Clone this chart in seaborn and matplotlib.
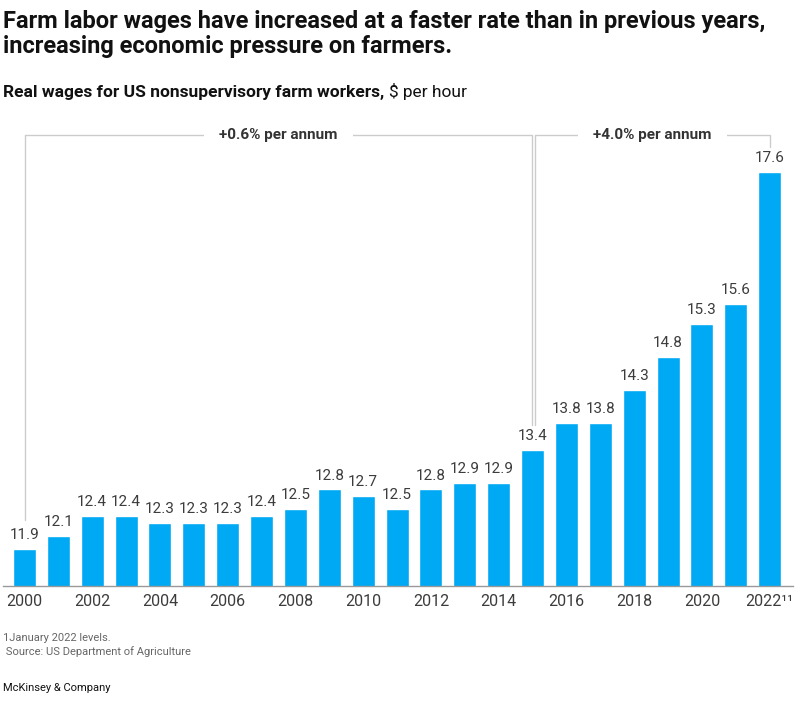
import matplotlib
matplotlib.use("Agg")
import matplotlib.pyplot as plt
import seaborn as sns
import pandas as pd

years = [str(y) for y in range(2000, 2023)]
wages = [11.9, 12.1, 12.4, 12.4, 12.3, 12.3, 12.3, 12.4, 12.5, 12.8, 12.7, 12.5,
         12.8, 12.9, 12.9, 13.4, 13.8, 13.8, 14.3, 14.8, 15.3, 15.6, 17.6]
tick_labels = [y if int(y) % 2 == 0 else "" for y in years]
tick_labels[-1] = "2022¹¹"
bracket_labels = ["+0.6% per annum", "+4.0% per annum"]

sns.set_theme(style="white")
plt.rcParams['font.family'] = ['Roboto', 'DejaVu Sans']

W, H = 799, 703
fig = plt.figure(figsize=(W / 100, H / 100), dpi=100)

ax_left, ax_right = 3, 793
ax_bottom, ax_top = 586, 120
ax = fig.add_axes([ax_left / W, 1 - ax_bottom / H, (ax_right - ax_left) / W, (ax_bottom - ax_top) / H])

df = pd.DataFrame({"year": years, "wage": wages})
sns.barplot(data=df, x="year", y="wage", color="#00A9F4", saturation=1, width=0.68, ax=ax)

# scale: 11.9 -> y=549, 17.6 -> y=172
ppu = (549 - 172) / (17.6 - 11.9)
ymin = 11.9 - (ax_bottom - 549) / ppu
ymax = ymin + (ax_bottom - ax_top) / ppu
ax.set_ylim(ymin, ymax)
ax.set_xlim(-0.635, 22.69)

for i, v in enumerate(wages):
    ax.annotate(f"{v:.1f}", (i, v), xytext=(0, 5), textcoords="offset points",
                ha="center", va="bottom", fontsize=11, color="#3c3c3c")

for s in ["top", "left", "right"]:
    ax.spines[s].set_visible(False)
ax.spines["bottom"].set_color("#999999")
ax.spines["bottom"].set_linewidth(1)
ax.set_yticks([])
ax.set_xlabel("")
ax.set_ylabel("")
ax.set_xticks(range(len(years)))
ax.set_xticklabels(tick_labels, fontsize=11.5, color="#3c3c3c")
ax.tick_params(axis="x", length=0, pad=6)

# brackets
bc = "#cccccc"
def px2val(py):
    return ymin + (ax_bottom - py) / ppu
yb = px2val(135)

ax.plot([0, 0, 15 - 0.03, 15 - 0.03], [px2val(520), yb, yb, px2val(425)], color=bc, lw=1, clip_on=False)
ax.plot([15 + 0.07, 15 + 0.07, 22, 22], [px2val(425), yb, yb, px2val(147)], color=bc, lw=1, clip_on=False)
for (a, b), lab in zip([(0, 15), (15.07, 22)], bracket_labels):
    ax.text((a + b) / 2, yb, lab, ha="center", va="center", fontsize=11, fontweight="bold",
            color="#333333", bbox=dict(boxstyle="square,pad=1.0", fc="white", ec="none"))

# titles
fig.text(3 / W, 1 - 10 / H, "Farm labor wages have increased at a faster rate than in previous years,\nincreasing economic pressure on farmers.",
         ha="left", va="top", fontsize=17, fontweight="bold", color="#111111", linespacing=1.1)
t1 = fig.text(3 / W, 1 - 92 / H, "Real wages for US nonsupervisory farm workers,", ha="left", va="center",
              fontsize=12.5, fontweight="bold", color="#111111")
fig.canvas.draw()
bb = t1.get_window_extent()
fig.text((bb.x1 + 5) / W, 1 - 92 / H, r"\$ per hour", ha="left", va="center", fontsize=12.5, color="#111111")

fig.text(3 / W, 1 - 645 / H, "1January 2022 levels.\n Source: US Department of Agriculture", ha="left", va="center",
         fontsize=8, color="#666666", linespacing=1.25)
fig.text(3 / W, 1 - 688 / H, "McKinsey & Company", ha="left", va="center", fontsize=8, color="#111111")

fig.savefig("out.png", dpi=100)
